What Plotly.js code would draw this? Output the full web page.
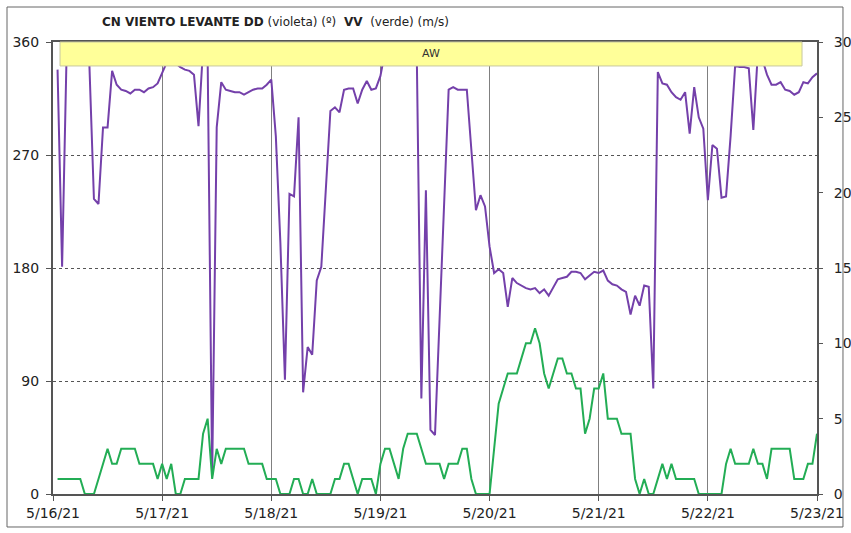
<!DOCTYPE html>
<html>
<head>
<meta charset="utf-8">
<script src="https://cdn.plot.ly/plotly-3.0.1.min.js"></script>
<style>html,body{margin:0;padding:0;background:#fff;}#chart{width:851px;height:533px;}</style>
</head>
<body>
<div id="chart"></div>
<script>
// Hourly readings, 5/16/21 01:00 -> 5/23/21 00:00
const startDay = '2021-05-16';
const hoursCount = 168;

// DD: wind direction (degrees), violet, left axis
const windDir = [
  338,181,352,356,355,353,350,342,235,231,292,292,337,326,322,321,319,322,322,320,323,324,327,335,
  343,352,343,340,338,337,334,293,355,348,15,292,328,322,321,320,320,318,320,322,323,323,326,330,
  285,200,91,239,237,300,81,117,111,170,181,245,305,308,304,322,323,323,311,322,329,322,323,333,
  352,355,357,354,356,353,350,348,76,242,51,47,140,237,322,324,322,322,322,274,226,238,229,197,
  176,179,176,149,172,168,166,164,163,164,160,163,158,164,171,172,173,177,177,176,171,174,177,176,
  178,170,167,166,163,161,143,158,150,166,165,84,336,327,326,320,316,314,320,287,324,300,291,234,
  278,275,236,237,285,341,340,340,339,290,352,346,334,326,326,328,322,321,318,320,328,327,332,335
];

// VV: wind speed (m/s), green, right axis
const windSpeed = [
  1,1,1,1,1,1,0,0,0,1,2,3,2,2,3,3,3,3,2,2,2,2,1,2,
  1,2,0,0,1,1,1,1,4,5,1,3,2,3,3,3,3,3,2,2,2,2,1,1,
  1,0,0,0,1,1,0,0,1,0,0,0,0,1,1,2,2,1,0,1,1,1,0,2,
  3,3,2,1,3,4,4,4,3,2,2,2,2,1,2,2,2,3,3,1,0,0,0,0,
  3,6,7,8,8,8,9,10,10,11,10,8,7,8,9,9,8,8,7,7,4,5,7,7,
  8,5,5,5,4,4,4,1,0,1,0,0,1,2,1,2,1,1,1,1,1,0,0,0,
  0,0,0,2,3,2,2,2,2,3,2,2,1,3,3,3,3,3,1,1,1,2,2,4
];

const dayTicks = ['2021-05-16','2021-05-17','2021-05-18','2021-05-19','2021-05-20','2021-05-21','2021-05-22','2021-05-23'];
const dayLabels = ['5/16/21','5/17/21','5/18/21','5/19/21','5/20/21','5/21/21','5/22/21','5/23/21'];
const dirTicks = [0, 90, 180, 270, 360];
const speedTicks = [0, 5, 10, 15, 20, 25, 30];

function pad(n){ return (n < 10 ? '0' : '') + n; }
const times = [];
for (let i = 1; i <= hoursCount; i++) {
  const d = 16 + Math.floor(i / 24);
  const h = i % 24;
  times.push('2021-05-' + pad(d) + ' ' + pad(h) + ':00:00');
}

const fontFam = 'DejaVu Sans, Verdana, sans-serif';

const traces = [
  {
    x: times, y: windDir, type: 'scatter', mode: 'lines', yaxis: 'y',
    line: {color: '#7440aa', width: 2}, hoverinfo: 'skip', name: 'DD'
  },
  {
    x: times, y: windSpeed, type: 'scatter', mode: 'lines', yaxis: 'y2',
    line: {color: '#23ad55', width: 2}, hoverinfo: 'skip', name: 'VV'
  }
];

const layout = {
  width: 851, height: 533,
  margin: {l: 53, r: 34, t: 42, b: 39, pad: 0},
  paper_bgcolor: '#ffffff', plot_bgcolor: '#ffffff',
  showlegend: false,
  font: {family: fontFam, size: 14, color: '#222'},
  xaxis: {
    type: 'date',
    range: ['2021-05-16', '2021-05-23'],
    tickmode: 'array', tickvals: dayTicks, ticktext: dayLabels,
    showgrid: true, gridcolor: '#808080', gridwidth: 1,
    showline: true, linecolor: '#555', linewidth: 2, mirror: true,
    ticks: 'outside', ticklen: 5, tickcolor: '#555',
    tickfont: {family: fontFam, size: 14, color: '#222'},
    zeroline: false, fixedrange: true
  },
  yaxis: {
    range: [0, 360], tickmode: 'array', tickvals: dirTicks,
    showgrid: true, gridcolor: '#555', gridwidth: 1, griddash: 'dot',
    showline: true, linecolor: '#555', linewidth: 2,
    ticks: 'outside', ticklen: 5, tickcolor: '#555',
    tickfont: {family: fontFam, size: 14, color: '#222'},
    ticklabelstandoff: 4,
    zeroline: false, fixedrange: true
  },
  yaxis2: {
    range: [0, 30], overlaying: 'y', side: 'right',
    tickmode: 'array', tickvals: speedTicks,
    showgrid: false, showline: true, linecolor: '#555', linewidth: 2,
    ticks: 'outside', ticklen: 4, tickcolor: '#555',
    tickfont: {family: fontFam, size: 14, color: '#222'},
    ticklabelstandoff: 8,
    zeroline: false, fixedrange: true
  },
  shapes: [
    {type: 'rect', xref: 'paper', yref: 'paper', x0: 0.0092, x1: 0.9804, y0: 0.947, y1: 1,
     fillcolor: '#ffff99', line: {color: '#c8c8a0', width: 1}, layer: 'above'},
    {type: 'rect', xref: 'paper', yref: 'paper', x0: -0.0602, x1: 1.034, y0: -0.073, y1: 1.0774,
     fillcolor: 'rgba(0,0,0,0)', line: {color: '#666', width: 1}, layer: 'below'}
  ],
  annotations: [
    {text: 'AW', xref: 'paper', yref: 'paper', x: 0.4948, y: 0.9735, xanchor: 'center', yanchor: 'middle',
     showarrow: false, font: {family: fontFam, size: 11, color: '#333'}},
    {text: '<b>CN VIENTO LEVANTE DD</b> (violeta) (º)  <b>VV</b>  (verde) (m/s)',
     xref: 'paper', yref: 'paper', x: 0.0615, y: 1.044, xanchor: 'left', yanchor: 'middle',
     showarrow: false, font: {family: fontFam, size: 12, color: '#222'}}
  ]
};

Plotly.newPlot('chart', traces, layout, {staticPlot: true, displayModeBar: false});
</script>
</body>
</html>
